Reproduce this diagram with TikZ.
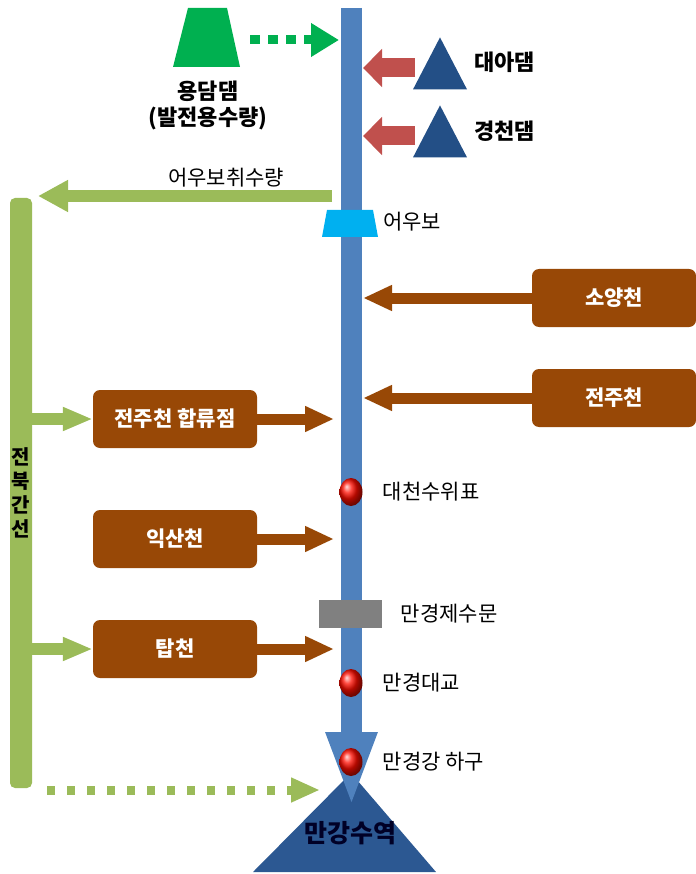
\documentclass[tikz,border=0pt]{standalone}
\usepackage{fontspec}
\setmainfont{Noto Sans CJK KR}
\usetikzlibrary{arrows.meta,shapes.geometric,positioning}

\definecolor{riverblue}{RGB}{79,129,189}
\definecolor{damblue}{RGB}{35,79,134}
\definecolor{seablue}{RGB}{44,88,146}
\definecolor{brownc}{RGB}{152,72,6}
\definecolor{lgreen}{RGB}{155,187,89}
\definecolor{dgreen}{RGB}{0,176,80}
\definecolor{weircyan}{RGB}{0,176,240}
\definecolor{redarr}{RGB}{192,80,77}

\tikzset{
  lbl/.style={font=\fontsize{21}{24}\selectfont, inner sep=0pt},
  blbl/.style={font=\fontsize{22}{26}\selectfont\bfseries, inner sep=0pt, align=center},
  box/.style={rectangle, rounded corners=7pt, fill=brownc, text=white,
    font=\fontsize{21}{24}\selectfont\bfseries, minimum width=164pt, minimum height=58pt},
  dam/.style={isosceles triangle, isosceles triangle stretches, shape border rotate=90,
    fill=damblue, minimum width=54pt, minimum height=52pt, inner sep=0pt},
  gball/.style={ellipse, shade, ball color=red!90!orange, minimum width=23pt,
    minimum height=28pt, inner sep=0pt},
  garrow/.style={draw=lgreen, line width=12pt, -{Triangle[width=22pt,length=30pt]}},
  brarrow/.style={draw=brownc, line width=11pt, -{Triangle[width=24pt,length=29pt]}},
  rarrow/.style={draw=redarr, line width=19pt, -{Triangle[width=37pt,length=19pt]}}
}

\begin{document}
\begin{tikzpicture}[x=1pt,y=-1pt]
\useasboundingbox (0,0) rectangle (695,874);

% canal and tributaries
\node[rectangle, rounded corners=5pt, fill=lgreen, minimum width=22pt, minimum height=590pt,
  inner sep=0pt, align=center, font=\fontsize{20}{24}\selectfont\bfseries] (jbk) at (21,493)
  {전\\북\\간\\선};
\node[box] (jjh) at (175,419) {전주천 합류점};
\node[box] (iks) at (175,539) {익산천};
\node[box] (tap) at (175,649) {탑천};
\node[box] (syc) at (614,298) {소양천};
\node[box] (jjc) at (614,398) {전주천};

\coordinate (rvl) at (334,0);
\coordinate (rvr) at (363,0);

\draw[garrow] (jbk.east |- jjh) -- (jjh.west);
\draw[garrow] (jbk.east |- tap) -- (tap.west);
\draw[brarrow] (jjh.east) -- (rvl |- jjh);
\draw[brarrow] (iks.east) -- (rvl |- iks);
\draw[brarrow] (tap.east) -- (rvl |- tap);
\draw[brarrow] (syc.west) -- (rvr |- syc);
\draw[brarrow] (jjc.west) -- (rvr |- jjc);

% intake at the weir
\coordinate (take) at (332,196);
\coordinate (canal) at (38,196);
\draw[draw=lgreen, line width=12pt, -{Triangle[width=30pt,length=30pt]}] (take) -- (canal);
\node[lbl] (takel) at (226,178) {어우보취수량};

% dams
\fill[dgreen] (173,67) -- (188,8) -- (227,8) -- (240,67) -- cycle;
\coordinate (ydd) at (207,38);
\node[blbl, align=center] (yddl) at (208,105) {용담댐\\(발전용수량)};
\coordinate (ydout) at (250,40);
\coordinate (ydin) at (339,40);
\draw[draw=dgreen, line width=9pt, dash pattern=on 10pt off 8pt,
  -{Triangle[width=32pt,length=28pt]}] (ydout) -- (ydin);

\node[dam] (dae) at (440,73) {};
\node[dam] (gcd) at (440,141) {};
\node[blbl, anchor=west] (dael) at (474,62) {대아댐};
\node[blbl, anchor=west] (gcdl) at (474,131) {경천댐};
\coordinate (daeo) at (415,68);
\coordinate (gcdo) at (415,136);
\draw[rarrow] (daeo) -- (rvr |- daeo);
\draw[rarrow] (gcdo) -- (rvr |- gcdo);

% estuary
\fill[seablue] (253,872) -- (351,773) -- (436,872) -- cycle;
\coordinate (mgs) at (347,840);
\coordinate (bdot) at (47,790);
\coordinate (bin) at (320,790);
\draw[draw=lgreen, line width=9pt, dash pattern=on 8pt off 12pt,
  -{Triangle[width=23pt,length=29pt]}] (bdot) -- (bin);

% river
\coordinate (src) at (351.5,8);
\coordinate (mouth) at (351.5,808);
\draw[draw=riverblue, line width=21pt, -{Triangle[width=46pt,length=76pt]}] (src) -- (mouth);

\fill[weircyan] (322,237) -- (327,210) -- (373,210) -- (378,237) -- cycle;
\coordinate (eub) at (378,223);
\node[lbl, anchor=west] (eubl) at (383,222) {어우보};
\node[rectangle, fill=gray, minimum width=63pt, minimum height=28pt, inner sep=0pt] (mgj) at (350,614) {};
\node[lbl, right=19pt of mgj] (mgjl) {만경제수문};

\node[gball] (dcs) at (351,492) {};
\node[gball] (mgd) at (351,683) {};
\node[gball] (mgh) at (351,762) {};
\node[lbl, right=20pt of dcs] (dcsl) {대천수위표};
\node[lbl, right=20pt of mgd] (mgdl) {만경대교};
\node[lbl, right=20pt of mgh] (mghl) {만경강 하구};

\node[font=\fontsize{25}{28}\selectfont\bfseries, text=black!85!blue, inner sep=0pt] (mgsl) at (350,833) {만강수역};
\end{tikzpicture}
\end{document}
